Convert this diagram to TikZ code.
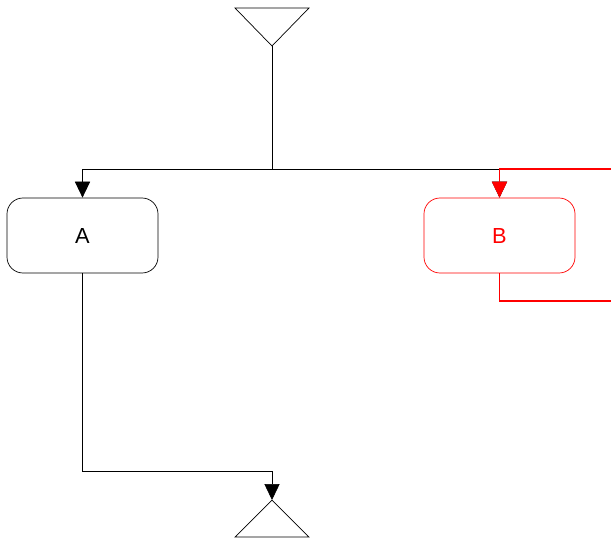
\documentclass[tikz,border=0pt]{standalone}
\usepackage{fontspec}
\setmainfont{Liberation Sans}
\usetikzlibrary{arrows.meta,positioning}

\begin{document}
\begin{tikzpicture}[x=0.025cm,y=-0.025cm,
  stepbox/.style={draw, line width=0.5pt, rounded corners=0.4cm,
    minimum width=3.775cm, minimum height=1.875cm,
    font=\fontsize{15.5}{18}\selectfont},
  wire/.style={line width=0.5pt},
  flow/.style={wire, -{Triangle[length=0.4cm,width=0.38cm]}},
  back/.style={red, line width=0.8pt}]
  \useasboundingbox (0,0) rectangle (611,539);
  % steps
  \node[stepbox] (A) at (82.5,235.5) {A};
  \node[stepbox, draw=red, text=red] (B) at (499.5,235.5) {B};
  % start and stop
  \coordinate (start) at (272,46);
  \coordinate (stop) at (272,500);
  \draw[wire] (235,8) -- (309,8) -- (start) -- cycle;
  \draw[wire] (stop) -- (309,537) -- (235,537) -- cycle;
  % bends
  \coordinate (split) at (272,169);
  \coordinate (join) at (272,471);
  \coordinate (loopin) at (611,169);
  \coordinate (loopout) at (611,301);
  % connectors
  \draw[wire] (start) -- (split);
  \draw[flow] (split) -| (A.north);
  \draw[flow] (split) -| (B.north);
  \draw[flow] (A.south) |- (join) -- (stop);
  \draw[back] (B.south) |- (loopout);
  \draw[flow, back] (loopin) -| (B.north);
\end{tikzpicture}
\end{document}
